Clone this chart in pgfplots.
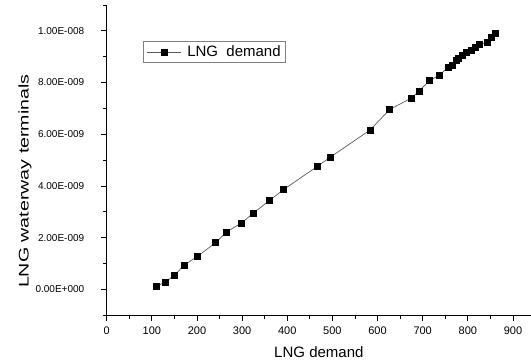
\documentclass[border=0pt]{standalone}
\usepackage{pgfplots}
\pgfplotsset{compat=1.18}
\usepackage{fontspec}
\setmainfont{Liberation Sans}
\begin{document}
\begin{tikzpicture}
\begin{axis}[
  name=main,
  scale only axis,
  width=424pt, height=310pt,
  xmin=0, xmax=940,
  ymin=-1e-9, ymax=1.1e-8,
  axis x line*=bottom, axis y line*=left,
  axis line style={black, line width=0.8pt},
  tick align=outside,
  major tick length=6pt, minor tick length=3.5pt,
  every tick/.style={black, line width=0.8pt},
  xtick={0,100,...,900},
  minor xtick={50,150,...,900},
  ytick={0,2e-9,4e-9,6e-9,8e-9,1e-8},
  minor ytick={-1e-9,1e-9,3e-9,5e-9,7e-9,9e-9,1.1e-8},
  yticklabels={0.00E+000,2.00E-009,4.00E-009,6.00E-009,8.00E-009,1.00E-008},
  scaled y ticks=false,
  /pgf/number format/assume math mode=true,
  xticklabel style={font=\fontsize{11}{13}\selectfont, yshift=-2pt},
  yticklabel style={font=\fontsize{10}{12}\selectfont, xshift=-13pt},
  xlabel={LNG demand},
  xlabel style={font=\fontsize{15}{17}\selectfont, at={(axis description cs:0.5,-0.12)}, anchor=center},
  ylabel={\scalebox{1.4}[1]{LNG waterway terminals}},
  ylabel style={font=\fontsize{14}{16}\selectfont, at={(axis description cs:-0.193,0.432)}, anchor=center},
  legend style={at={(axis description cs:0.086,0.884)}, anchor=north west,
    draw=black!50, line width=0.6pt, font=\fontsize{15}{17}\selectfont,
    inner xsep=3pt, inner ysep=2.5pt},
  legend cell align=left,
  legend image code/.code={%
    \draw[mark=none] (0pt,0pt) -- (34pt,0pt);
    \begin{scope}[shift={(17pt,0pt)}]\draw plot coordinates {(0pt,0pt)};\end{scope}},
]
\addplot[black!65, line width=0.7pt, mark=square*, mark size=3pt,
  mark options={fill=black, draw=black}] coordinates {
(109,0.10e-9) (129,0.28e-9) (150,0.54e-9) (171,0.93e-9) (201,1.28e-9)
(241,1.80e-9) (265,2.22e-9) (299,2.57e-9) (324,2.94e-9) (360,3.43e-9)
(391,3.85e-9) (466,4.75e-9) (496,5.12e-9) (583,6.16e-9) (627,6.96e-9)
(675,7.40e-9) (692,7.67e-9) (715,8.07e-9) (737,8.29e-9) (757,8.60e-9)
(765,8.67e-9) (774,8.84e-9) (780,8.95e-9) (788,9.05e-9) (796,9.16e-9)
(808,9.26e-9) (817,9.38e-9) (826,9.47e-9) (843,9.56e-9) (853,9.75e-9)
(861,9.92e-9)
};
\addlegendentry{\hspace{4pt}LNG\ \ demand}
\end{axis}
\pgfresetboundingbox
\path[use as bounding box] ([shift={(-106.7pt,-48pt)}]main.south west) rectangle ([shift={(0pt,5pt)}]main.north east);
\end{tikzpicture}
\end{document}
